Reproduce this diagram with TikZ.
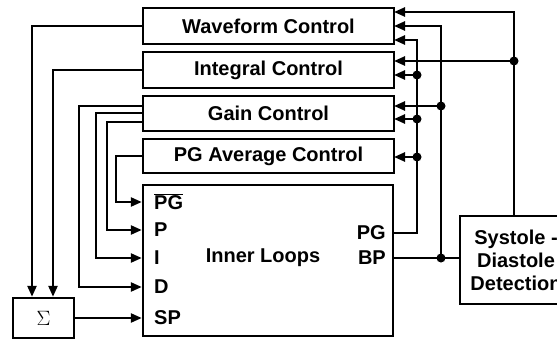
\documentclass[tikz,border=0pt]{standalone}
\usepackage{fontspec}
\setmainfont{Liberation Sans}
\usetikzlibrary{arrows.meta}
\begin{document}
\begin{tikzpicture}[x=1pt,y=-1pt,line width=2.4pt,
  box/.style={draw,line width=2.4pt,inner sep=0pt,font=\fontsize{20}{23}\selectfont\bfseries},
  lbl/.style={inner sep=0pt,font=\fontsize{20}{23}\selectfont\bfseries},
  arr/.style={-{Triangle[length=11pt,width=9pt]},line width=2.4pt},
  dot/.style={circle,fill,inner sep=0pt,minimum size=9pt}]
\useasboundingbox (0,0) rectangle (557,340);
% blocks
\node[box,minimum width=251pt,minimum height=36pt] (wf) at (268.5,26) {Waveform Control};
\node[box,minimum width=251pt,minimum height=36pt] (ic) at (268.5,70) {Integral Control};
\node[box,minimum width=251pt,minimum height=35pt] (gc) at (268.5,113.5) {Gain Control};
\node[box,minimum width=251pt,minimum height=34pt] (pa) at (268.5,156) {PG Average Control};
\node[box,minimum width=250pt,minimum height=151pt] (il) at (268,260.5) {};
\node[lbl] (iltext) at (263,258) {Inner Loops};
\node[box,minimum width=61pt,minimum height=40pt] (sig) at (43.5,318) {\fontsize{20}{23}\selectfont\mdseries$\Sigma$};
\node[box,minimum width=112pt,minimum height=88pt,align=center] (sd) at (516,260) {Systole -\\Diastole\\Detection};
% port labels
\node[lbl,anchor=west] (lpgb) at (153,202) {$\overline{\hbox{PG}}$};
\node[lbl,anchor=west] (lp) at (153,230) {P};
\node[lbl,anchor=west] (li) at (153,258) {I};
\node[lbl,anchor=west] (ld) at (153,287) {D};
\node[lbl,anchor=west] (lsp) at (153,318) {SP};
\node[lbl,anchor=east] (lpg) at (387,233) {PG};
\node[lbl,anchor=east] (lbp) at (387,258) {BP};
% input ports of inner loops
\coordinate (inPGb) at (il.west |- lpgb);
\coordinate (inP) at (il.west |- lp);
\coordinate (inI) at (il.west |- li);
\coordinate (inD) at (il.west |- ld);
\coordinate (inSP) at (il.west |- lsp);
\coordinate (outPG) at (il.east |- lpg);
\coordinate (outBP) at (il.east |- lbp);
% right-edge inputs of control boxes
\coordinate (wf1) at (394,12);
\coordinate (wf2) at (394,26);
\coordinate (wf3) at (394,40);
\coordinate (ic1) at (394,61);
\coordinate (ic2) at (394,75);
\coordinate (gc1) at (394,106);
\coordinate (gc2) at (394,119);
\coordinate (pa1) at (394,157);
% left-edge outputs of control boxes
\coordinate (g1) at (143,106);
\coordinate (g2) at (143,113);
\coordinate (g3) at (143,122);
% junction dots
\node[dot] (dA) at (514,61) {};
\node[dot] (dB1) at (441,106) {};
\node[dot] (dB2) at (441,258) {};
\node[dot] (dC1) at (417,75) {};
\node[dot] (dC2) at (417,119) {};
\node[dot] (dC3) at (417,157) {};
% right side connectors
\draw[arr] (dA.center |- sd.north) |- (wf1);
\draw[arr] (dA.center) -- (ic1);
\draw (outBP) -- (sd.west |- outBP);
\draw[arr] (dB2.center) |- (wf2);
\draw[arr] (dB1.center) -- (gc1);
\draw[arr] (outPG) -| (dC1.center) |- (wf3);
\draw[arr] (dC1.center) -- (ic2);
\draw[arr] (dC2.center) -- (gc2);
\draw[arr] (dC3.center) -- (pa1);
% left side connectors
\draw[arr] (wf.west) -| ([xshift=-11.5pt]sig.north);
\draw[arr] (ic.west) -| ([xshift=9.5pt]sig.north);
\draw[arr] (g1) -- (79,106) |- (inD);
\draw[arr] (g2) -- (96,113) |- (inI);
\draw[arr] (g3) -- (107,122) |- (inP);
\draw[arr] (pa.west |- 0,156) -- (116,156) |- (inPGb);
\draw[arr] (sig.east) -- (inSP);
\end{tikzpicture}
\end{document}
